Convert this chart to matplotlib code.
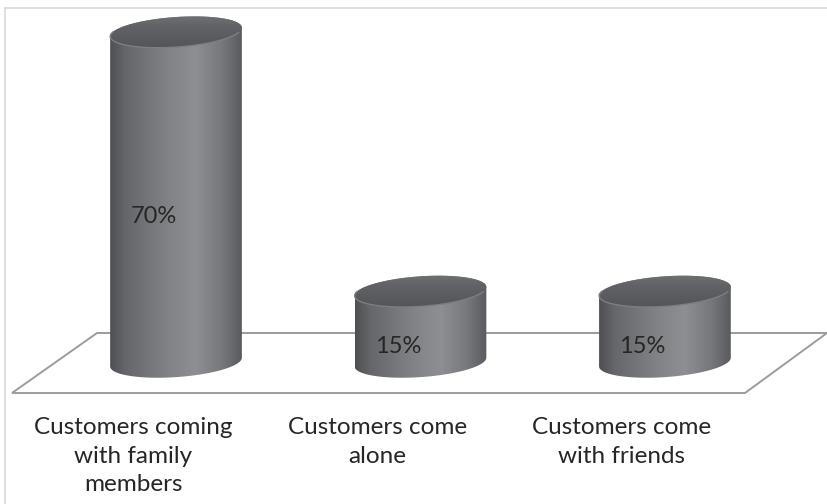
import numpy as np
import matplotlib
matplotlib.use("Agg")
import matplotlib.pyplot as plt
from matplotlib.patches import Polygon
from matplotlib.colors import LinearSegmentedColormap
from matplotlib.lines import Line2D

# ---- data ----
categories = ["Customers coming\nwith family\nmembers",
              "Customers come\nalone",
              "Customers come\nwith friends"]
values = [70, 15, 15]
value_labels = ["70%", "15%", "15%"]

# ---- figure / axes ----
W, H, DPI = 827, 504, 100
fig = plt.figure(figsize=(W / DPI, H / DPI), dpi=DPI)
fig.patch.set_facecolor("white")
ax = fig.add_axes([0, 0, 1, 1])
ax.set_axis_off()

X_LO, X_HI = -0.72, 2.663
Y_LO, Y_HI = -30.1, 76.8
ax.set_xlim(X_LO, X_HI)
ax.set_ylim(Y_LO, Y_HI)

# pixels per data unit
ppx = W / (X_HI - X_LO)
ppy = H / (Y_HI - Y_LO)

FONT = ["Lato", "DejaVu Sans"]

# light frame around the chart area
ax.add_line(Line2D([5 / W, 5 / W], [0, 1 - 8 / H], transform=ax.transAxes,
                   color="#d9d9d9", lw=1.2))
ax.add_line(Line2D([5 / W, 1], [1 - 8 / H, 1 - 8 / H], transform=ax.transAxes,
                   color="#d9d9d9", lw=1.2))

# floor plane
floor_px = [(97, 333), (827, 333), (745, 393), (12, 393)]
floor = Polygon([(x / W, 1 - y / H) for x, y in floor_px], closed=True,
                transform=ax.transAxes, facecolor="white",
                edgecolor="#9c9c9c", lw=1.4, zorder=1)
ax.add_patch(floor)

# cylinder shape (in pixels)
A_PX, B_PX, THETA = 66.0, 15.0, np.deg2rad(4.0)

body_cmap = LinearSegmentedColormap.from_list(
    "body", [(0.0, "#4f5053"), (0.12, "#66676a"), (0.45, "#828386"),
             (0.65, "#8e8f92"), (0.85, "#77787b"), (1.0, "#5a5b5e")])
top_cmap = LinearSegmentedColormap.from_list(
    "top", [(0.0, "#545558"), (0.7, "#626366"), (1.0, "#6f7073")])


def ellipse_pts(cx, cy, n=400):
    t = np.linspace(0, 2 * np.pi, n, endpoint=False)
    ex = A_PX * np.cos(t) * np.cos(THETA) - B_PX * np.sin(t) * np.sin(THETA)
    ey = A_PX * np.cos(t) * np.sin(THETA) + B_PX * np.sin(t) * np.cos(THETA)
    return cx + ex / ppx, cy + ey / ppy


for i, v in enumerate(values):
    # bottom and top ellipses
    bx, by = ellipse_pts(i, 0.0)
    tx, ty = ellipse_pts(i, v)
    k_left, k_right = np.argmin(bx), np.argmax(bx)

    # lower arc of bottom ellipse (left -> bottom -> right)
    idx = np.arange(len(bx))
    order = np.roll(idx, -k_left)
    seg = order[: (k_right - k_left) % len(bx) + 1]
    if by[seg].mean() > 0:
        order = np.roll(idx[::-1], -(len(bx) - 1 - k_left))
        seg = order[: (k_left - k_right) % len(bx) + 1]
    lower = np.column_stack([bx[seg], by[seg]])

    # upper arc of top ellipse (right -> top -> left)
    order_t = np.roll(idx, -k_right)
    seg_t = order_t[: (k_left - k_right) % len(tx) + 1]
    if ty[seg_t].mean() < v:
        order_t = np.roll(idx[::-1], -(len(tx) - 1 - k_right))
        seg_t = order_t[: (k_right - k_left) % len(tx) + 1]
    upper = np.column_stack([tx[seg_t], ty[seg_t]])

    body_poly = np.vstack([lower, upper])
    body = Polygon(body_poly, closed=True, facecolor="none",
                   edgecolor="none", zorder=2)
    ax.add_patch(body)
    x0, x1 = body_poly[:, 0].min(), body_poly[:, 0].max()
    y0, y1 = body_poly[:, 1].min(), body_poly[:, 1].max()
    grad = np.linspace(0, 1, 256).reshape(1, -1)
    im = ax.imshow(grad, cmap=body_cmap, aspect="auto",
                   extent=(x0, x1, y0, y1), zorder=2, interpolation="bicubic")
    im.set_clip_path(body)

    # top face
    top = Polygon(np.column_stack([tx, ty]), closed=True, facecolor="none",
                  edgecolor="none", zorder=3)
    ax.add_patch(top)
    gy = np.linspace(1, 0, 64).reshape(-1, 1)
    im2 = ax.imshow(gy, cmap=top_cmap, aspect="auto",
                    extent=(tx.min(), tx.max(), ty.min(), ty.max()),
                    zorder=3, interpolation="bicubic", origin="upper")
    im2.set_clip_path(top)
    # soft rim along the front of the top face
    front = ty < v
    ax.plot(np.where(front, tx, np.nan), np.where(front, ty, np.nan),
            color="#7d7e81", lw=1.0, zorder=4)

    # value label
    ax.annotate(value_labels[i], xy=(i, v / 2), xytext=(-16, -14),
                textcoords="offset points", ha="center", va="center",
                fontsize=17, color="#262626", family=FONT, zorder=5)

    # category label
    ax.text(i - 43 / ppx, -(417 - 362) / ppy, categories[i],
            ha="center", va="top", fontsize=17.5, color="#262626",
            family=FONT, linespacing=1.45, zorder=5)

fig.savefig("out.png", dpi=DPI, facecolor="white")
